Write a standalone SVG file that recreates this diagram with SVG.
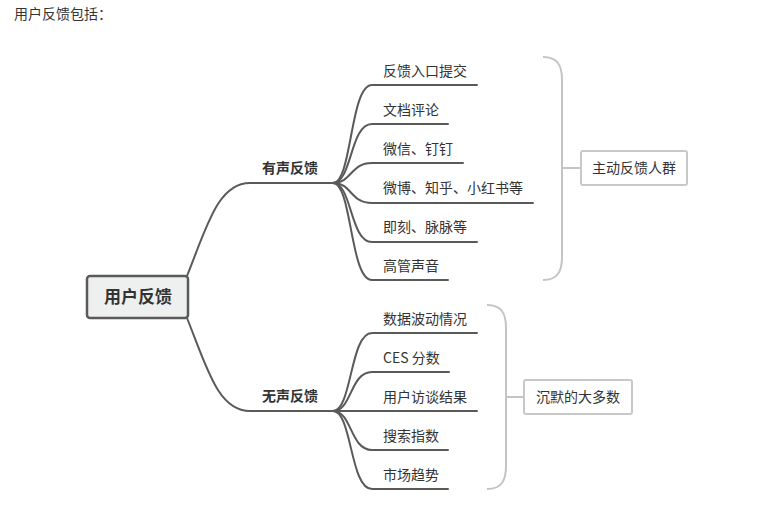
<svg xmlns="http://www.w3.org/2000/svg" width="771" height="509" viewBox="0 0 771 509">
<style>
text{font-family:"Noto Sans CJK SC","Microsoft YaHei",sans-serif;fill:#333;}
.t{font-size:14px;}
.b{font-size:14px;font-weight:bold;}
.leaf{font-size:14px;}
.ln{fill:none;stroke:#5a5a5a;stroke-width:2;stroke-linecap:round;}
.br{fill:none;stroke:#c4c4c4;stroke-width:2;}
.box{fill:#fff;stroke:#c8c8c8;stroke-width:2;}
</style>
<rect width="771" height="509" fill="#fff"/>
<text class="t" x="14" y="19">用户反馈包括：</text>
<g id="connectors">
<path class="ln" d="M187,276 C207,226 218,183 250,183 L333,183"/>
<path class="ln" d="M187,318 C207,368 218,411 250,411 L333,411"/>
<path class="ln" d="M333,183 C352,183 350,85 372,85 L477,85"/>
<path class="ln" d="M333,183 C352,183 350,124 372,124 L448,124"/>
<path class="ln" d="M333,183 C352,183 350,163 372,163 L463,163"/>
<path class="ln" d="M333,183 C352,183 350,203 372,203 L533,203"/>
<path class="ln" d="M333,183 C352,183 350,242 372,242 L477,242"/>
<path class="ln" d="M333,183 C352,183 350,280 372,280 L448,280"/>
<path class="ln" d="M333,411 C352,411 350,333 372,333 L477,333"/>
<path class="ln" d="M333,411 C352,411 350,372 372,372 L449,372"/>
<path class="ln" d="M333,411 L477,411"/>
<path class="ln" d="M333,411 C352,411 350,450 372,450 L448,450"/>
<path class="ln" d="M333,411 C352,411 350,489 372,489 L448,489"/>
<path class="br" d="M543,57 C558,57 562,66 562,80 L562,257 C562,271 558,280 543,280 M562,168 L581,168"/>
<path class="br" d="M487,305 C502,305 506,314 506,328 L506,466 C506,480 502,489 487,489 M506,397 L524,397"/>
</g>
<g id="root">
<rect x="87" y="276" width="101" height="42" rx="3" fill="#eef0f0" stroke="#5a5a5a" stroke-width="2.5"/>
<text x="138" y="303" text-anchor="middle" style="font-size:17px;font-weight:bold;">用户反馈</text>
</g>
<g id="n-voiced"><text class="b" x="262" y="173">有声反馈</text></g>
<g id="n-silent"><text class="b" x="262" y="401">无声反馈</text></g>
<g id="l1"><text class="leaf" x="383" y="76">反馈入口提交</text></g>
<g id="l2"><text class="leaf" x="383" y="115">文档评论</text></g>
<g id="l3"><text class="leaf" x="383" y="154">微信、钉钉</text></g>
<g id="l4"><text class="leaf" x="383" y="193">微博、知乎、小红书等</text></g>
<g id="l5"><text class="leaf" x="383" y="232">即刻、脉脉等</text></g>
<g id="l6"><text class="leaf" x="383" y="271">高管声音</text></g>
<g id="m1"><text class="leaf" x="383" y="324">数据波动情况</text></g>
<g id="m2"><text class="leaf" x="383" y="363">CES 分数</text></g>
<g id="m3"><text class="leaf" x="383" y="402">用户访谈结果</text></g>
<g id="m4"><text class="leaf" x="383" y="441">搜索指数</text></g>
<g id="m5"><text class="leaf" x="383" y="480">市场趋势</text></g>
<g id="s1">
<rect class="box" x="581" y="151" width="106" height="34" rx="2"/>
<text class="leaf" x="634" y="173" text-anchor="middle">主动反馈人群</text>
</g>
<g id="s2">
<rect class="box" x="524" y="380" width="108" height="34" rx="2"/>
<text class="leaf" x="578" y="402" text-anchor="middle">沉默的大多数</text>
</g>
</svg>
